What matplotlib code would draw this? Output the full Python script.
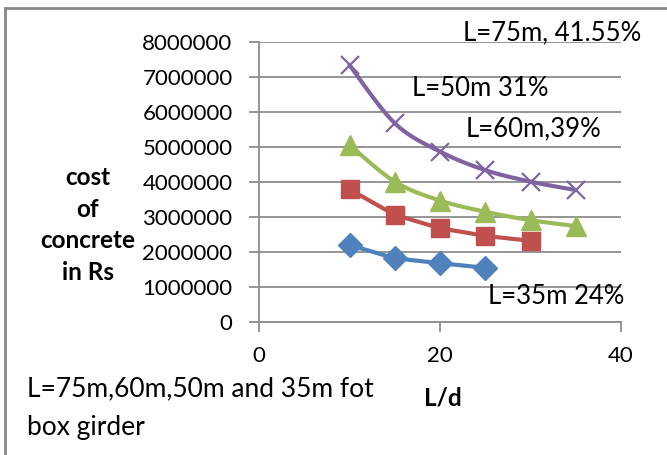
import numpy as np
import matplotlib.pyplot as plt

plt.rcParams['font.family'] = ['Lato', 'DejaVu Sans']

# L/d ratios for each span
ld_75 = [10, 15, 20, 25, 30, 35]
ld_60 = [10, 15, 20, 25, 30, 35]
ld_50 = [10, 15, 20, 25, 30]
ld_35 = [10, 15, 20, 25]

# cost of concrete (Rs)
cost_75 = [7340000, 5680000, 4870000, 4340000, 4010000, 3770000]
cost_60 = [5060000, 4010000, 3470000, 3150000, 2910000, 2740000]
cost_50 = [3790000, 3060000, 2680000, 2460000, 2320000]
cost_35 = [2200000, 1820000, 1680000, 1550000]

y_ticks = [0, 1000000, 2000000, 3000000, 4000000, 5000000, 6000000, 7000000, 8000000]
x_ticks = [0, 20, 40]


def smooth(xs, ys, n=20):
    # Catmull-Rom curve through the points, like a smoothed line in a spreadsheet
    p = np.column_stack([xs, ys]).astype(float)
    p = np.vstack([p[0], p, p[-1]])
    out = []
    for i in range(1, len(p) - 2):
        p0, p1, p2, p3 = p[i - 1], p[i], p[i + 1], p[i + 2]
        t = np.linspace(0, 1, n)[:, None]
        seg = 0.5 * ((2 * p1) + (-p0 + p2) * t + (2 * p0 - 5 * p1 + 4 * p2 - p3) * t ** 2
                     + (-p0 + 3 * p1 - 3 * p2 + p3) * t ** 3)
        out.append(seg)
    out = np.vstack(out)
    return out[:, 0], out[:, 1]


W, H = 667, 455
fig = plt.figure(figsize=(W / 100, H / 100), dpi=100)
ax = fig.add_axes([259 / W, 1 - 322 / H, 362 / W, 280 / H])

grid_c = '#8c8c8c'
fs = 16

sx, sy = smooth(ld_75, cost_75)
ax.plot(sx, sy, color='#8064A2', lw=3, solid_capstyle='round', zorder=3)
ax.plot(ld_75, cost_75, ls='none', marker='x', ms=13, mew=1.6, color='#8064A2', zorder=4)

sx, sy = smooth(ld_60, cost_60)
ax.plot(sx, sy, color='#9BBB59', lw=3, solid_capstyle='round', zorder=3)
ax.plot(ld_60, cost_60, ls='none', marker='^', ms=14, color='#9BBB59', zorder=4)

ax.plot(ld_50, cost_50, color='#C0504D', lw=3, marker='s', ms=13, zorder=3)
ax.plot(ld_35, cost_35, color='#4F81BD', lw=3, marker='D', ms=12, zorder=3)

ax.set_xlim(0, 40)
ax.set_ylim(0, 8000000)
ax.set_xticks(x_ticks)
ax.set_yticks(y_ticks)
ax.set_yticklabels([str(v) for v in y_ticks])
ax.yaxis.grid(True, color=grid_c, lw=1.3)
ax.set_axisbelow(True)
for side in ['top', 'right']:
    ax.spines[side].set_visible(False)
for side in ['left', 'bottom']:
    ax.spines[side].set_color(grid_c)
    ax.spines[side].set_linewidth(1.3)
ax.tick_params(axis='both', direction='out', length=7, width=1.3, color=grid_c,
               labelsize=fs, labelcolor='black')
ax.tick_params(axis='y', pad=12)
ax.tick_params(axis='x', pad=10)

# series annotations
labels = [
    (463, 33, 'L=75m, 41.55%'),
    (412, 89, 'L=50m 31%'),
    (466, 129, 'L=60m,39%'),
    (488, 296, 'L=35m 24%'),
]
for px, py, s in labels:
    fig.text(px / W, 1 - py / H, s, fontsize=18.5, va='center', ha='left')

fig.text(88 / W, 1 - 225 / H, 'cost\nof\nconcrete\nin Rs', fontsize=17.5, fontweight='bold',
         ha='center', va='center', linespacing=1.46)
fig.text(443 / W, 1 - 398 / H, 'L/d', fontsize=17.5, fontweight='bold', ha='center', va='center')
fig.text(27 / W, 1 - 408 / H, 'L=75m,60m,50m and 35m fot\nbox girder', fontsize=19,
         ha='left', va='center', linespacing=1.66)

# chart frame (left and top edges)
fig.add_artist(plt.Line2D([5 / W, 5 / W], [0, 1 - 8 / H], color='#888888', lw=2))
fig.add_artist(plt.Line2D([5 / W, 1], [1 - 8 / H, 1 - 8 / H], color='#888888', lw=2))

fig.savefig('out.png', dpi=100)
